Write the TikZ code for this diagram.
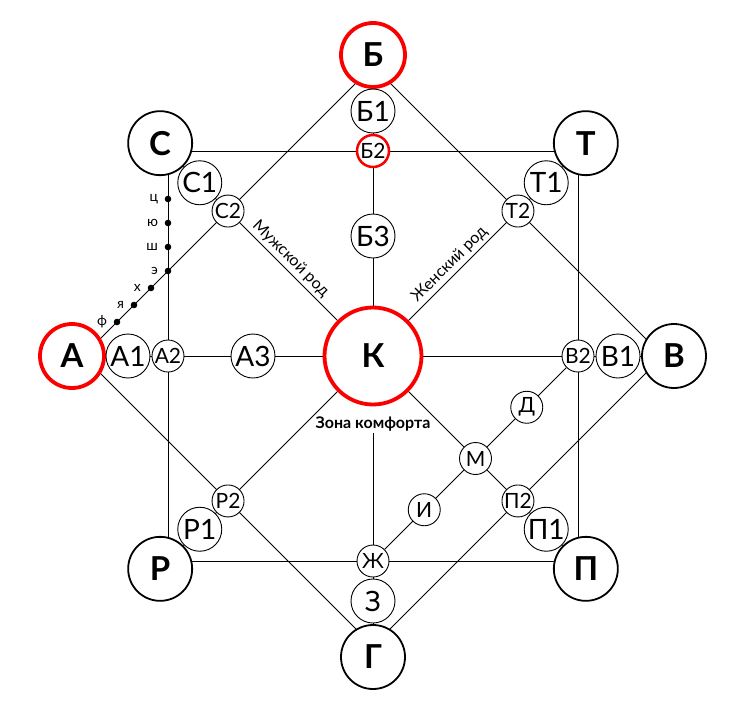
\documentclass[tikz,border=0pt]{standalone}
\usepackage{fontspec}
\setmainfont{Lato}
\usepackage{xcolor}
\usetikzlibrary{positioning, calc, backgrounds}
\definecolor{ringred}{RGB}{250,0,0}

\begin{document}
\begin{tikzpicture}[x=1pt, y=1pt,
	pole/.style={draw, circle, fill=white, line width=1.8pt, minimum size=64pt, inner sep=0pt, font=\fontsize{33}{33}\selectfont\bfseries},
	hub/.style={pole, draw=ringred, line width=3.8pt},
	satellite/.style={draw, circle, fill=white, line width=0.9pt, minimum size=44pt, inner sep=0pt, font=\fontsize{28}{28}\selectfont},
	junction/.style={draw, circle, fill=white, line width=0.9pt, minimum size=32pt, inner sep=0pt, font=\fontsize{21}{21}\selectfont},
	letterdot/.style={circle, fill=black, inner sep=0pt, minimum size=6.6pt, label={[label distance=3pt, font=\fontsize{14}{14}\selectfont]left:#1}},
	link/.style={line width=0.9pt}
	]
	\useasboundingbox (-373,-357) rectangle (365,356);

	% centre and the eight poles
	\node [hub, minimum size=97pt](K) at (0,0) {К};
	\node [hub](B) at (90:301) {Б};
	\node [hub](A) at (180:301) {А};
	\node [pole](V) at (0:301) {В};
	\node [pole](G) at (270:301) {Г};
	\node [pole](S) at (135:301) {С};
	\node [pole](T) at (45:301) {Т};
	\node [pole](P) at (315:301) {П};
	\node [pole](R) at (225:301) {Р};

	% first ring
	\node [satellite](B1) at (90:245) {Б1};
	\node [satellite](A1) at (180:245) {А1};
	\node [satellite](V1) at (0:245) {В1};
	\node [satellite](Z) at (270:245) {З};
	\node [satellite](S1) at (135:245) {С1};
	\node [satellite](T1) at (45:245) {Т1};
	\node [satellite](P1) at (315:245) {П1};
	\node [satellite](R1) at (225:245) {Р1};

	% second ring
	\node [junction, draw=ringred, line width=2.5pt](B2) at (90:205) {Б2};
	\node [junction](A2) at (180:205) {А2};
	\node [junction](V2) at (0:205) {В2};
	\node [junction](Zh) at (270:205) {Ж};
	\node [junction](S2) at (135:205) {С2};
	\node [junction](T2) at (45:205) {Т2};
	\node [junction](P2) at (315:205) {П2};
	\node [junction](R2) at (225:205) {Р2};

	\node [satellite](B3) at (90:120) {Б3};
	\node [satellite](A3) at (180:120) {А3};

	\node [junction](M) at ($(Zh)!0.5!(V2)$) {М};
	\node [junction](D) at ($(Zh)!0.75!(V2)$) {Д};
	\node [junction](I) at ($(Zh)!0.25!(V2)$) {И};

	% corners of square and diamond
	\coordinate (sqS) at (-205,205);
	\coordinate (sqT) at (205,205);
	\coordinate (sqP) at (205,-205);
	\coordinate (sqR) at (-205,-205);
	\coordinate (dA) at (-290,0);
	\coordinate (dB) at (0,290);
	\coordinate (dV) at (290,0);
	\coordinate (dG) at (0,-290);

	% letters on the left
	\node [letterdot=ф](f) at (-256,34) {};
	\node [letterdot=я](ya) at (-239,51) {};
	\node [letterdot=х](h) at (-222,68) {};
	\node [letterdot=э](e) at (-205,85) {};
	\node [letterdot=ш](sh) at (-205,109) {};
	\node [letterdot=ю](yu) at (-205,133) {};
	\node [letterdot=ц](ts) at (-205,157) {};

	\node [rotate=-45, anchor=south, font=\fontsize{16}{16}\selectfont](male) at ($(K)!0.62!(S2)$) {Мужской род};
	\node [rotate=45, anchor=south, font=\fontsize{16}{16}\selectfont](female) at ($(K)!0.58!(T2)$) {Женский род};
	\node [font=\fontsize{16}{16}\selectfont\bfseries, inner sep=2pt](comfort) [below=8pt of K] {Зона комфорта};

	\begin{scope}[on background layer]
		\draw[link] (sqS) -- (sqT) -- (sqP) -- (sqR) -- cycle;
		\draw[link] (dA) -- (dB) -- (dV) -- (dG) -- cycle;
		\draw[link] (A) -- (V);
		\draw[link] (B) -- (K);
		\draw[link] (comfort) -- (G);
		\draw[link] (S) -- (P);
		\draw[link] (T) -- (R);
		\draw[link] (Zh) -- (V2);
	\end{scope}
\end{tikzpicture}
\end{document}
